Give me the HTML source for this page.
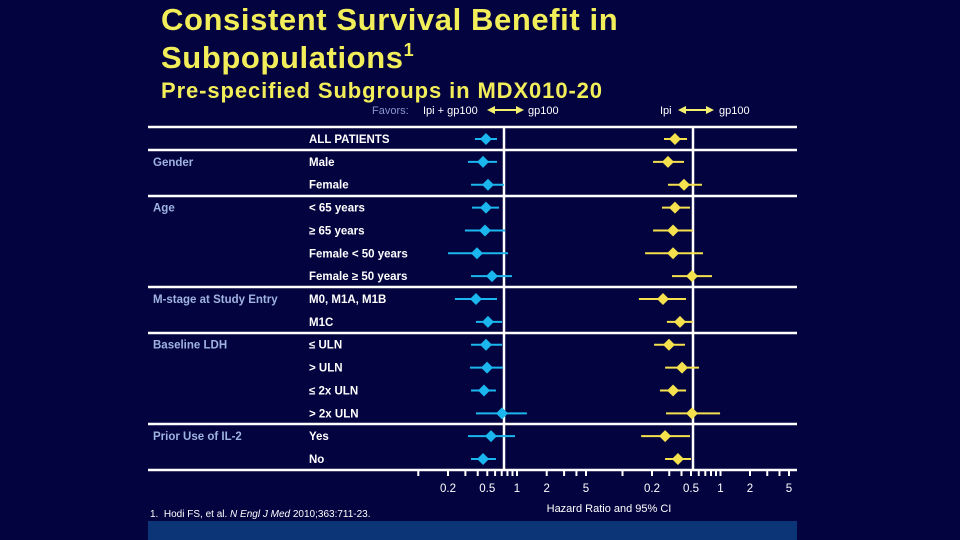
<!DOCTYPE html>
<html><head><meta charset="utf-8"><style>
body{margin:0;background:#03033f;}
#wrap{position:relative;width:960px;height:540px;background:#03033f;overflow:hidden;font-family:"Liberation Sans",sans-serif;}
.t{position:absolute;white-space:nowrap;}
</style></head><body>
<div id="wrap">
<div class="t" style="left:161px;top:1px;font-size:31px;letter-spacing:0.6px;font-weight:bold;color:#f2ee5a;line-height:38px;">Consistent Survival Benefit in<br>Subpopulations<sup style="font-size:18px;vertical-align:12px;line-height:0">1</sup></div>
<div class="t" style="left:161px;top:78px;font-size:22px;letter-spacing:0.9px;font-weight:bold;color:#f2ee5a;">Pre-specified Subgroups in MDX010-20</div>
<svg id="chart" width="960" height="540" style="position:absolute;left:0;top:0" xmlns="http://www.w3.org/2000/svg"></svg>
<div class="t" style="left:150px;top:509px;font-size:10px;color:#fff;">1.&nbsp; Hodi FS, et al. <i>N Engl J Med</i> 2010;363:711-23.</div>
<div style="position:absolute;left:148px;top:521px;width:649px;height:19px;background:#0b3577;"></div>
</div>
<script>
const rowLabels=["ALL PATIENTS","Male","Female","< 65 years","\u2265 65 years","Female < 50 years","Female \u2265 50 years","M0, M1A, M1B","M1C","\u2264 ULN","> ULN","\u2264 2x ULN","> 2x ULN","Yes","No"];
const groupLabels=[[1,"Gender"],[3,"Age"],[7,"M-stage at Study Entry"],[9,"Baseline LDH"],[13,"Prior Use of IL-2"]];
const blueHR=[0.485,0.453,0.508,0.485,0.474,0.393,0.558,0.384,0.508,0.485,0.497,0.463,0.705,0.545,0.453];
const blueLo=[0.375,0.319,0.342,0.350,0.297,0.200,0.342,0.235,0.384,0.342,0.334,0.342,0.384,0.319,0.342];
const blueHi=[0.627,0.627,0.738,0.657,0.756,0.811,0.889,0.627,0.705,0.705,0.721,0.612,1.26,0.955,0.612];
const yelHR=[0.343,0.291,0.424,0.343,0.328,0.328,0.512,0.259,0.386,0.298,0.405,0.328,0.512,0.272,0.368];
const yelLo=[0.265,0.205,0.291,0.253,0.205,0.170,0.320,0.147,0.284,0.210,0.272,0.241,0.278,0.155,0.272];
const yelHi=[0.455,0.424,0.647,0.489,0.524,0.663,0.819,0.445,0.524,0.434,0.604,0.445,0.99,0.489,0.500];
const tickLabels=[0.2,0.5,1,2,5];
const minorTicks=[0.1,0.2,0.3,0.4,0.5,0.6,0.7,0.8,0.9,1,2,3,4,5];
const NS="http://www.w3.org/2000/svg",svg=document.getElementById('chart');
const xL=v=>517+98.7*Math.log10(v), xR=v=>720.5+98*Math.log10(v);
const yRow=i=>139+i*22.86;
function el(tag,a,txt){const e=document.createElementNS(NS,tag);for(const k in a)e.setAttribute(k,a[k]);if(txt!==undefined)e.textContent=txt;svg.appendChild(e);return e;}
[127,150,196,287,333,424,470].forEach(y=>{const l=el('line',{x1:148,x2:797,y1:y,y2:y,stroke:'#fff','stroke-width':2.5});

});
[504,693].forEach(x=>{const l=el('line',{x1:x,x2:x,y1:127,y2:470,stroke:'#fff','stroke-width':2.5});

});
let f=el('text',{x:372,y:114,fill:'#8896c8','font-size':11},'Favors:');


[[423,'Ipi + gp100'],[528,'gp100'],[660,'Ipi'],[719,'gp100']].forEach(([x,s])=>{const t=el('text',{x:x,y:114,fill:'#fff','font-size':11},s);

});
[[487,524],[678,714]].forEach(([a,b])=>{const g=el('path',{d:`M${a} 110 L${a+8} 106 L${a+8} 109 L${b-8} 109 L${b-8} 106 L${b} 110 L${b-8} 114 L${b-8} 111 L${a+8} 111 L${a+8} 114 Z`,fill:'#f5ef70'});

});
rowLabels.forEach((s,i)=>{const t=el('text',{x:309,y:yRow(i)+4,fill:'#fff','font-size':11.5,'font-weight':'bold'},s);

});
groupLabels.forEach(([i,s])=>{const t=el('text',{x:153,y:yRow(i)+4,fill:'#9fb3e0','font-size':11.5,'font-weight':'bold'},s);

});
function series(hr,lo,hi,sx,col,name){hr.forEach((v,i)=>{const y=yRow(i);
const l=el('line',{x1:sx(lo[i]),x2:sx(hi[i]),y1:y,y2:y,stroke:col,'stroke-width':2});


const x=sx(v);const d=el('path',{d:`M${x-6} ${y} L${x} ${y-6} L${x+6} ${y} L${x} ${y+6} Z`,fill:col});

});}
series(blueHR,blueLo,blueHi,xL,'#1bb6ee','ipi-gp100');
series(yelHR,yelLo,yelHi,xR,'#f5e04e','ipi');
[xL,xR].forEach(sx=>{minorTicks.forEach(v=>{const x=sx(v);const t=el('line',{x1:x,x2:x,y1:470,y2:476,stroke:'#fff','stroke-width':2});

});
tickLabels.forEach(v=>{const t=el('text',{x:sx(v),y:492,fill:'#fff','font-size':11.5,'text-anchor':'middle'},String(v));

});});
let xt=el('text',{x:609,y:512,fill:'#fff','font-size':11,'text-anchor':'middle'},'Hazard Ratio and 95% CI');


</script>
</body></html>
